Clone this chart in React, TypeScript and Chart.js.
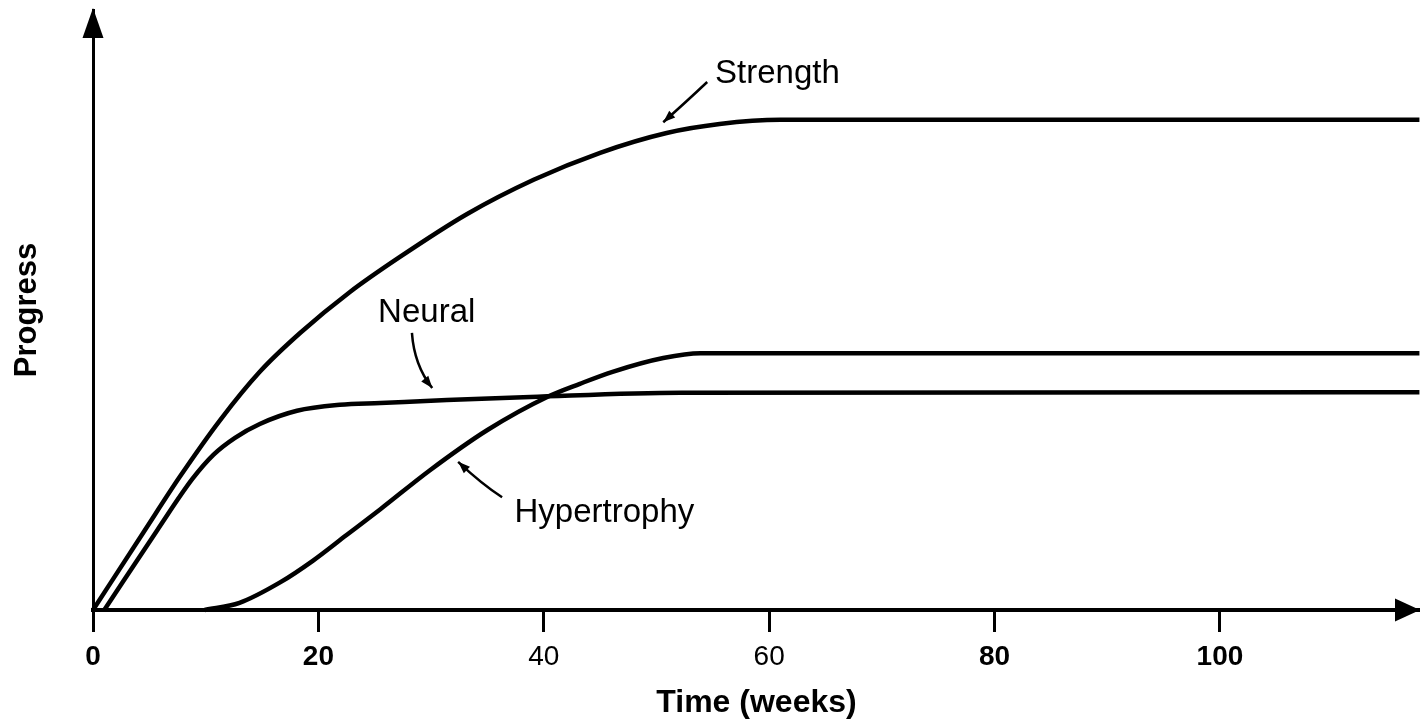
import React, { useEffect, useRef } from "react";
import { Chart, registerables } from "chart.js";

Chart.register(...registerables);

// ---- data (weeks / progress units) ----
const strengthWeeks = [0, 4.6, 7.7, 11.3, 14.8, 18.4, 22.8, 27.2, 33.2, 39.1, 45, 50.9, 55.6, 61, 70, 117.7];
const strengthValues = [0, 13.3, 22.2, 31.7, 39.7, 46.2, 53, 58.8, 66, 71.7, 76.2, 79.5, 81, 81.7, 81.7, 81.7];

const neuralWeeks = [1, 5.7, 8.8, 10.7, 12.6, 14.8, 18.1, 21.9, 25.5, 31.4, 38.8, 52.1, 117.7];
const neuralValues = [0, 13.3, 21.8, 25.9, 28.7, 31, 33.2, 34.2, 34.5, 35, 35.5, 36.2, 36.3];

const hypertrophyWeeks = [9.9, 13, 16.6, 19.5, 22.5, 25.5, 29.9, 35, 40.3, 43.2, 46.1, 50.6, 53.9, 117.7];
const hypertrophyValues = [0, 1.2, 4.6, 8.2, 12.5, 16.8, 23.3, 30, 35.5, 37.7, 39.7, 42, 42.8, 42.8];

const xTickValues = [0, 20, 40, 60, 80, 100];
const boldTicks = [0, 20, 80, 100];

// annotations (data units)
const noteLabels = ["Strength", "Neural", "Hypertrophy"];
const noteTextX = [55.2, 25.3, 37.4];
const noteTextY = [87.8, 48, 14.7];
const pointerStartX = [54.5, 28.3, 36.3];
const pointerStartY = [88, 46.2, 18.8];
const pointerBendX = [52.7, 28.5, 34.5];
const pointerBendY = [84.8, 40.8, 21];
const pointerTipX = [50.6, 30.1, 32.4];
const pointerTipY = [81.3, 37, 24.7];

const FONT = '"Liberation Sans", Arial, Helvetica, sans-serif';

const toPoints = (xs: number[], ys: number[]) => xs.map((x, i) => ({ x, y: ys[i] }));

const notesPlugin = {
  id: "notes",
  afterDraw(chart: any) {
    const { ctx, chartArea, scales } = chart;
    const xs = scales.x;
    const ys = scales.y;
    ctx.save();
    ctx.fillStyle = "#000";
    ctx.strokeStyle = "#000";
    // axis arrowheads
    const bx = chartArea.left;
    const by = chartArea.bottom;
    ctx.beginPath();
    ctx.moveTo(chartArea.right, by);
    ctx.lineTo(chartArea.right - 25, by - 11.5);
    ctx.lineTo(chartArea.right - 25, by + 11.5);
    ctx.closePath();
    ctx.fill();
    ctx.beginPath();
    ctx.moveTo(bx, chartArea.top - 2);
    ctx.lineTo(bx - 10.5, chartArea.top + 28);
    ctx.lineTo(bx + 10.5, chartArea.top + 28);
    ctx.closePath();
    ctx.fill();

    // labels
    ctx.font = `33px ${FONT}`;
    ctx.textBaseline = "alphabetic";
    ctx.textAlign = "left";
    noteLabels.forEach((t, i) => {
      ctx.fillText(t, xs.getPixelForValue(noteTextX[i]), ys.getPixelForValue(noteTextY[i]));
    });

    // pointers
    ctx.lineWidth = 2.5;
    noteLabels.forEach((_, i) => {
      const sx = xs.getPixelForValue(pointerStartX[i]);
      const sy = ys.getPixelForValue(pointerStartY[i]);
      const cx = xs.getPixelForValue(pointerBendX[i]);
      const cy = ys.getPixelForValue(pointerBendY[i]);
      const tx = xs.getPixelForValue(pointerTipX[i]);
      const ty = ys.getPixelForValue(pointerTipY[i]);
      ctx.beginPath();
      ctx.moveTo(sx, sy);
      ctx.quadraticCurveTo(cx, cy, tx, ty);
      ctx.stroke();
      const ang = Math.atan2(ty - cy, tx - cx);
      const L = 12;
      const W = 4.5;
      ctx.beginPath();
      ctx.moveTo(tx, ty);
      ctx.lineTo(tx - L * Math.cos(ang) + W * Math.sin(ang), ty - L * Math.sin(ang) - W * Math.cos(ang));
      ctx.lineTo(tx - L * Math.cos(ang) - W * Math.sin(ang), ty - L * Math.sin(ang) + W * Math.cos(ang));
      ctx.closePath();
      ctx.fill();
    });
    ctx.restore();
  },
};

export default function App() {
  const ref = useRef<HTMLCanvasElement | null>(null);

  useEffect(() => {
    if (!ref.current) return;
    const lineStyle = {
      borderColor: "#000",
      borderWidth: 4.5,
      pointRadius: 0,
      fill: false,
      cubicInterpolationMode: "monotone" as const,
      clip: false as any,
    };
    const chart = new Chart(ref.current, {
      type: "line",
      data: {
        datasets: [
          { label: "Strength", data: toPoints(strengthWeeks, strengthValues), ...lineStyle },
          { label: "Neural", data: toPoints(neuralWeeks, neuralValues), ...lineStyle },
          { label: "Hypertrophy", data: toPoints(hypertrophyWeeks, hypertrophyValues), ...lineStyle },
        ],
      },
      options: {
        animation: false,
        responsive: true,
        maintainAspectRatio: false,
        layout: { padding: { left: 8, top: 10, right: 0, bottom: 0 } },
        plugins: {
          legend: { display: false },
          tooltip: { enabled: false },
        },
        scales: {
          x: {
            type: "linear",
            min: 0,
            max: 117.75,
            afterBuildTicks: (scale: any) => {
              scale.ticks = xTickValues.map((v) => ({ value: v }));
            },
            afterFit: (scale: any) => {
              scale.height = 111;
            },
            grid: {
              drawOnChartArea: false,
              drawTicks: true,
              tickLength: 22,
              lineWidth: 3,
              color: "#000",
            },
            border: { display: true, color: "#000", width: 4 },
            ticks: {
              color: "#000",
              padding: 8,
              maxRotation: 0,
              autoSkip: false,
              font: (c: any) => ({
                family: FONT,
                size: 28,
                weight: c && c.tick && boldTicks.includes(c.tick.value) ? "bold" : "normal",
              }),
              callback: (v: any) => String(v),
            },
            title: {
              display: true,
              text: "Time (weeks)",
              color: "#000",
              font: { family: FONT, size: 32, weight: "bold", lineHeight: 1.1 },
              padding: { top: 0, bottom: 0 },
            },
          },
          y: {
            type: "linear",
            min: 0,
            max: 100,
            afterFit: (scale: any) => {
              scale.width = 85;
            },
            grid: { display: false, drawTicks: false },
            border: { display: true, color: "#000", width: 3 },
            ticks: { display: false },
            title: {
              display: true,
              text: "Progress",
              color: "#000",
              font: { family: FONT, size: 31, weight: "bold", lineHeight: 1.2 },
              padding: { top: 1, bottom: 0 },
            },
          },
        },
      },
      plugins: [notesPlugin],
    });
    return () => chart.destroy();
  }, []);

  return (
    <div style={{ position: "fixed", left: 0, top: 0, width: 1420, height: 721, background: "#fff" }}>
      <canvas ref={ref} />
    </div>
  );
}
